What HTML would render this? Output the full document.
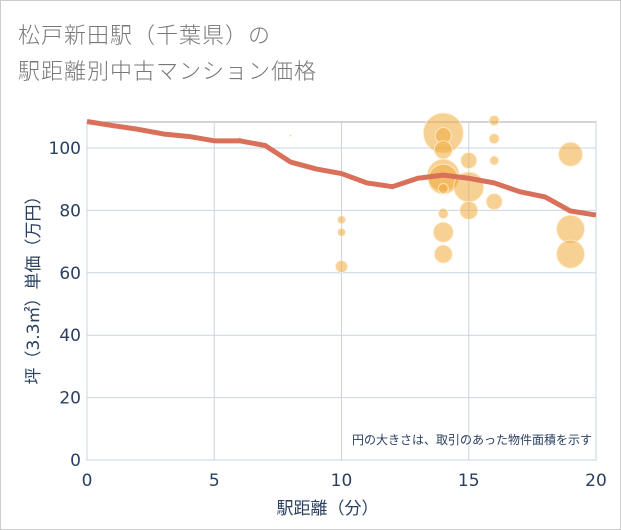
<!DOCTYPE html>
<html><head><meta charset="utf-8"><style>
body{margin:0;background:#fff;font-family:"Liberation Sans","Noto Sans CJK JP",sans-serif}
#wrap{position:relative;width:619px;height:528px;border:1px solid #ccc;background:#fff}
.t{position:absolute;left:17px;font-size:22px;color:#777;letter-spacing:1px;font-family:"DejaVu Sans","Noto Sans CJK JP",sans-serif;font-weight:300}
</style></head><body>
<div id="wrap">
<div class="t" style="top:17px">松戸新田駅（千葉県）の</div>
<div class="t" style="top:53px">駅距離別中古マンション価格</div>
<svg id="chart" width="621" height="530" style="position:absolute;left:-1px;top:-1px"></svg>
</div>
<script>
const xTicks=[0,5,10,15,20];
const yTicks=[0,20,40,60,80,100];
const lineX=[0,1,2,3,4,5,6,7,8,9,10,11,12,13,14,15,16,17,18,19,20];
const lineY=[108.5,107.2,106,104.5,103.7,102.3,102.3,100.8,95.5,93.3,91.8,88.8,87.6,90.3,91.3,90.3,88.8,86,84.3,79.8,78.5];
const bubX=[6,8,10,10,10,14,14,14,14,14,14,14,14,14,15,15,15,16,16,16,16,19,19,19];
const bubY=[103,104,77,73,62,104.8,104,99.4,91.3,90,87,79,73,66,96,87.5,80,108.8,103,96,82.8,98,74,66];
const bubR=[1.5,1,4,4,6,20,8,9,16,15,5,5,10,9,8,15,9,5,5,4.5,8,12,14,14];
const NS="http://www.w3.org/2000/svg";
const svg=document.getElementById('chart');
const L=87,R=596,T=122,B=460;
const FONT='"DejaVu Sans","Noto Sans CJK JP",sans-serif';
const sx=v=>L+(v-0)/20*(R-L);
const sy=v=>B-v*3.12;
function mk(tag,attrs,parent){const e=document.createElementNS(NS,tag);for(const k in attrs)e.setAttribute(k,attrs[k]);(parent||svg).appendChild(e);return e;}
const frame=mk('rect',{x:L,y:T,width:R-L,height:B-T,fill:'none',stroke:'#aaa','stroke-width':1});


xTicks.forEach(v=>{
 const g=mk('line',{x1:sx(v),x2:sx(v),y1:T,y2:B,stroke:'#c8d4e3'});
 
 
 const t=mk('text',{x:sx(v),y:B+26,'text-anchor':'middle','font-size':17,fill:'#2a3f5f','font-family':FONT});
 t.textContent=v;
 
 
});
yTicks.forEach(v=>{
 const g=mk('line',{x1:L,x2:R,y1:sy(v),y2:sy(v),stroke:'#c8d4e3'});
 
 
 const t=mk('text',{x:L-6,y:sy(v)+6,'text-anchor':'end','font-size':17,fill:'#2a3f5f','font-family':FONT});
 t.textContent=v;
 
 
});
bubX.forEach((x,i)=>{
 const c=mk('circle',{cx:sx(x),cy:sy(bubY[i]),r:bubR[i],fill:'rgba(240,170,60,0.55)',stroke:'rgba(255,240,210,0.8)','stroke-width':1});
 
 
});
const p=mk('polyline',{points:lineX.map((x,i)=>sx(x)+','+sy(lineY[i])).join(' '),fill:'none',stroke:'#d9705a','stroke-width':5,'stroke-linejoin':'round'});


const note=mk('text',{x:592,y:444,'text-anchor':'end','font-size':12,fill:'#2a3f5f','font-family':FONT});
note.textContent='円の大きさは、取引のあった物件面積を示す';


const xt=mk('text',{x:(L+R)/2-14,y:514,'text-anchor':'middle','font-size':17,fill:'#2a3f5f','font-family':FONT});
xt.textContent='駅距離（分）';


const yt=mk('text',{x:0,y:0,'text-anchor':'middle','font-size':17,fill:'#2a3f5f','font-family':FONT,transform:'translate(39,'+((T+B)/2-5)+') rotate(-90)'});
yt.textContent='坪（3.3㎡）単価（万円）';


</script>
</body></html>
